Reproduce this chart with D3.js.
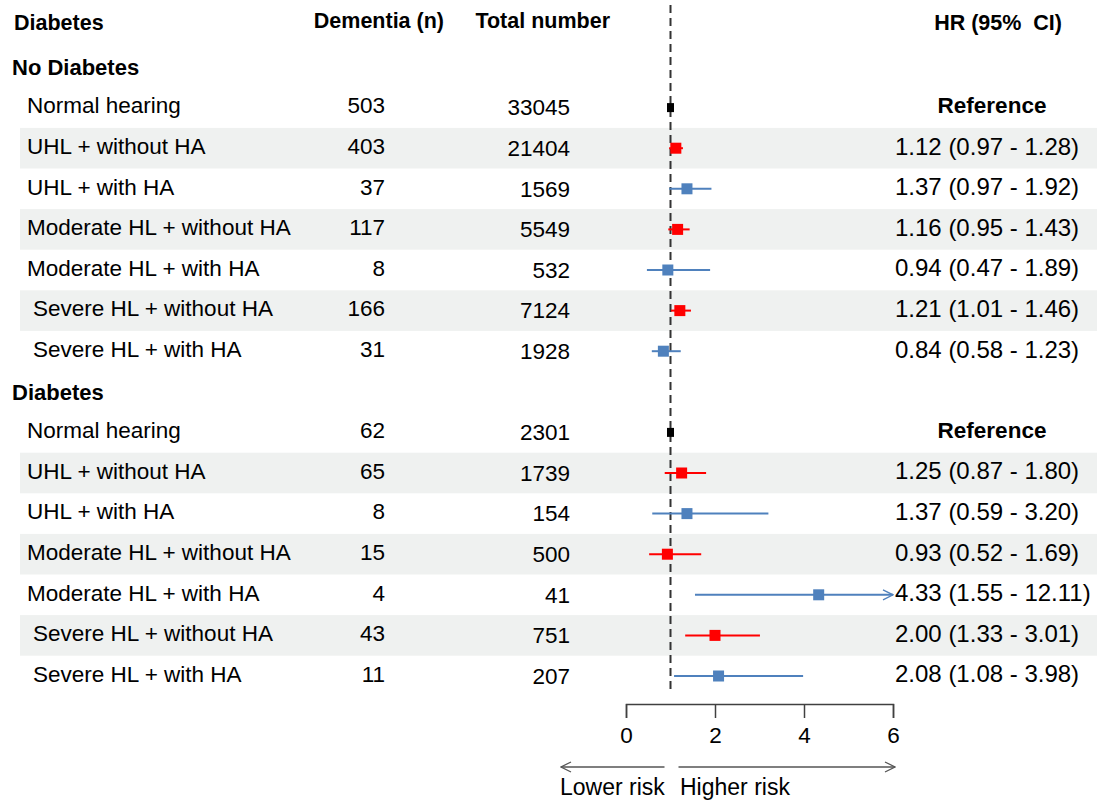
<!DOCTYPE html>
<html>
<head>
<meta charset="utf-8">
<script src="https://cdn.jsdelivr.net/npm/d3@7"></script>
<style>
  body { margin: 0; background: #fff; }
  svg { display: block; font-family: "Liberation Sans", Arial, sans-serif; }
</style>
</head>
<body>
<svg id="forest" width="1097" height="801"></svg>
<script>
let groups = ["No Diabetes", "Diabetes"];
let labels = ["Normal hearing", "UHL + without HA", "UHL + with HA", "Moderate HL + without HA",
    "Moderate HL + with HA", "Severe HL + without HA", "Severe HL + with HA"];

let dementiaNo = [503, 403, 37, 117, 8, 166, 31];
let totalNo = [33045, 21404, 1569, 5549, 532, 7124, 1928];
let hrNo = [1, 1.12, 1.37, 1.16, 0.94, 1.21, 0.84];
let lowerNo = [null, 0.97, 0.97, 0.95, 0.47, 1.01, 0.58];
let upperNo = [null, 1.28, 1.92, 1.43, 1.89, 1.46, 1.23];

let dementiaDm = [62, 65, 8, 15, 4, 43, 11];
let totalDm = [2301, 1739, 154, 500, 41, 751, 207];
let hrDm = [1, 1.25, 1.37, 0.93, 4.33, 2.00, 2.08];
let lowerDm = [null, 0.87, 0.59, 0.52, 1.55, 1.33, 1.08];
let upperDm = [null, 1.80, 3.20, 1.69, 12.11, 3.01, 3.98];

let xTicks = [0, 2, 4, 6];

// build row list: group header followed by its 7 rows
let rows = [];
[[dementiaNo, totalNo, hrNo, lowerNo, upperNo], [dementiaDm, totalDm, hrDm, lowerDm, upperDm]]
    .forEach(([dem, tot, hr, lo, up], g) => {
        rows.push({ header: true, label: groups[g], idx: rows.length });
        labels.forEach((lab, i) => {
            rows.push({
                header: false, label: lab, k: i, idx: rows.length,
                dem: dem[i], tot: tot[i], hr: hr[i], lo: lo[i], up: up[i],
                type: i == 0 ? "ref" : (lab.indexOf("without") >= 0 ? "without" : "with")
            });
        });
    });
let dataRows = rows.filter(d => !d.header);

let color = { ref: "#000000", without: "#ff0000", with: "#4f81bd" };

let svg = d3.select("#forest");
let x = d3.scaleLinear().domain([0, 6]).range([626, 893]);
let y = d3.scaleLinear().domain([0, 15]).range([67, 676]);
let fs = "22.5px";

// shaded bands (rows "without HA")
svg.selectAll(".band")
    .data(dataRows.filter(d => d.type == "without"))
    .enter()
    .append("rect")
    .attr("x", 20)
    .attr("y", d => y(d.idx) - 20.3)
    .attr("width", 1097 - 20)
    .attr("height", 40.6)
    .attr("fill", "#eff1f0");

// column headers
let head = svg.append("g").attr("font-weight", "bold").attr("font-size", "21.5px").attr("fill", "#000");
head.append("text").attr("x", 14).attr("y", 30).text("Diabetes");
head.append("text").attr("x", 444).attr("y", 28).attr("text-anchor", "end").text("Dementia (n)");
head.append("text").attr("x", 610).attr("y", 28).attr("text-anchor", "end").text("Total number");
head.append("text").attr("x", 1062).attr("y", 30).attr("text-anchor", "end")
    .attr("xml:space", "preserve").style("white-space", "pre").text("HR (95%  CI)");

// group headers
svg.selectAll(".grp")
    .data(rows.filter(d => d.header))
    .enter()
    .append("text")
    .attr("x", 12)
    .attr("y", d => y(d.idx))
    .attr("dy", "0.35em")
    .attr("font-weight", "bold")
    .attr("font-size", "22px")
    .text(d => d.label);

// row labels
svg.selectAll(".lab")
    .data(dataRows)
    .enter()
    .append("text")
    .attr("x", d => d.label.startsWith("Severe") ? 33 : 27)
    .attr("y", d => y(d.idx) - 2)
    .attr("dy", "0.35em")
    .attr("font-size", fs)
    .text(d => d.label);

svg.selectAll(".dem")
    .data(dataRows)
    .enter()
    .append("text")
    .attr("x", 385)
    .attr("y", d => y(d.idx) - 2)
    .attr("dy", "0.35em")
    .attr("text-anchor", "end")
    .attr("font-size", fs)
    .text(d => d.dem);

svg.selectAll(".tot")
    .data(dataRows)
    .enter()
    .append("text")
    .attr("x", 570)
    .attr("y", d => y(d.idx))
    .attr("dy", "0.35em")
    .attr("text-anchor", "end")
    .attr("font-size", fs)
    .text(d => d.tot);

svg.selectAll(".hr")
    .data(dataRows)
    .enter()
    .append("text")
    .attr("x", d => d.type == "ref" ? 992 : 895)
    .attr("y", d => y(d.idx) - 2)
    .attr("dy", "0.35em")
    .attr("text-anchor", d => d.type == "ref" ? "middle" : "start")
    .attr("font-weight", d => d.type == "ref" ? "bold" : "normal")
    .attr("font-size", d => d.type == "ref" ? "22.5px" : "24px")
    .text(d => d.type == "ref" ? "Reference"
        : d.hr.toFixed(2) + " (" + d.lo.toFixed(2) + " - " + d.up.toFixed(2) + ")");

// reference line at HR = 1
svg.append("line")
    .attr("x1", x(1)).attr("x2", x(1))
    .attr("y1", 5).attr("y2", 692)
    .attr("stroke", "#333")
    .attr("stroke-width", 2)
    .attr("stroke-dasharray", "8,5");

// arrow marker
let defs = svg.append("defs");
["ciblue", "axis"].forEach(id => {
    defs.append("marker")
        .attr("id", id)
        .attr("viewBox", "0 0 12 12")
        .attr("refX", 11).attr("refY", 6)
        .attr("markerWidth", 12).attr("markerHeight", 12)
        .attr("markerUnits", "userSpaceOnUse")
        .attr("orient", "auto-start-reverse")
        .append("path")
        .attr("d", "M1,1L11,6L1,11")
        .attr("fill", "none")
        .attr("stroke", id == "ciblue" ? color.with : "#555")
        .attr("stroke-width", 1.3);
});

// confidence intervals
let ci = dataRows.filter(d => d.type != "ref");
svg.selectAll(".ci")
    .data(ci)
    .enter()
    .append("line")
    .attr("x1", d => x(d.lo))
    .attr("x2", d => x(Math.min(d.up, 6)))
    .attr("y1", d => y(d.idx))
    .attr("y2", d => y(d.idx))
    .attr("stroke", d => color[d.type])
    .attr("stroke-width", 2)
    .attr("marker-end", d => d.up > 6 ? "url(#ciblue)" : null);

// point estimates
svg.selectAll(".pt")
    .data(dataRows)
    .enter()
    .append("rect")
    .attr("x", d => x(d.hr) - (d.type == "ref" ? 3.5 : 5.5))
    .attr("y", d => y(d.idx) - (d.type == "ref" ? 4.5 : 5.5))
    .attr("width", d => d.type == "ref" ? 7 : 11)
    .attr("height", d => d.type == "ref" ? 9 : 11)
    .attr("fill", d => color[d.type]);

// x axis
let axis = svg.append("g")
    .attr("transform", "translate(0,704)")
    .call(d3.axisBottom(x).tickValues(xTicks).tickSize(14).tickPadding(9).tickFormat(d3.format("d")));
axis.select(".domain").attr("stroke", "#404040").attr("stroke-width", 1.5);
axis.selectAll(".tick line").attr("stroke", "#404040").attr("stroke-width", 1.5);
axis.selectAll(".tick text")
    .attr("font-family", "Liberation Sans, Arial, sans-serif")
    .attr("font-size", "22.5px")
    .attr("fill", "#000");

// risk direction arrows
svg.append("line")
    .attr("x1", x(1) - 6).attr("x2", 561)
    .attr("y1", 767).attr("y2", 767)
    .attr("stroke", "#555").attr("stroke-width", 1.3)
    .attr("marker-end", "url(#axis)");
svg.append("line")
    .attr("x1", x(1) + 8).attr("x2", x(6) + 2)
    .attr("y1", 767).attr("y2", 767)
    .attr("stroke", "#555").attr("stroke-width", 1.3)
    .attr("marker-end", "url(#axis)");

svg.append("text").attr("x", 560).attr("y", 795).attr("font-size", "23px").text("Lower risk");
svg.append("text").attr("x", 680).attr("y", 795).attr("font-size", "23px").text("Higher risk");
</script>
</body>
</html>
